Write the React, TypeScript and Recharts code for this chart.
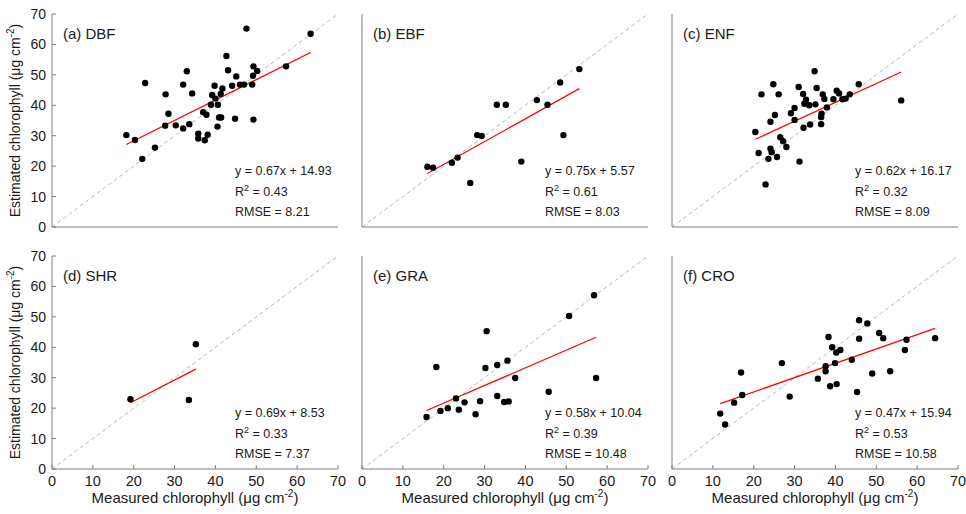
import React from 'react';
import { ScatterChart, Scatter, XAxis, YAxis, ReferenceLine, Customized } from 'recharts';

const dbfMeasured = [18.2, 20.3, 22.8, 22.1, 25.2, 27.8, 28.5, 27.7, 30.3, 32.1, 32.1, 33.0, 33.6, 34.3, 35.8, 35.8, 37.0, 37.8, 37.4, 38.1, 38.9, 39.2, 39.8, 40.0, 40.6, 40.5, 40.9, 41.4, 41.3, 41.7, 42.7, 43.1, 44.1, 44.8, 45.1, 46.0, 47.0, 47.6, 49.0, 49.3, 49.2, 49.3, 50.2, 57.3, 63.3];
const dbfEstimated = [30.2, 28.6, 47.3, 22.4, 26.1, 43.6, 37.2, 33.3, 33.4, 32.4, 46.8, 51.2, 33.8, 43.9, 30.7, 29.1, 37.7, 36.9, 28.5, 30.3, 40.2, 43.4, 46.4, 42.2, 40.2, 33.0, 36.0, 36.0, 43.7, 45.5, 56.2, 51.5, 46.4, 35.6, 49.5, 46.8, 46.8, 65.2, 46.8, 35.3, 49.7, 52.8, 51.3, 52.8, 63.5];

const ebfMeasured = [16.0, 17.4, 22.0, 23.4, 26.5, 28.2, 29.3, 33.0, 35.2, 39.0, 42.8, 45.4, 49.3, 48.5, 53.2];
const ebfEstimated = [19.8, 19.5, 21.1, 22.8, 14.5, 30.2, 29.9, 40.2, 40.2, 21.5, 41.7, 40.2, 30.2, 47.5, 51.9];

const enfMeasured = [20.4, 21.2, 21.9, 22.9, 23.6, 24.1, 24.4, 24.1, 24.8, 25.2, 25.7, 26.1, 26.5, 27.2, 28.0, 29.1, 30.0, 30.0, 31.0, 31.2, 32.1, 32.2, 32.4, 32.8, 33.8, 33.6, 34.9, 35.1, 35.4, 36.5, 36.5, 36.6, 36.9, 37.3, 37.9, 39.5, 40.3, 40.9, 41.7, 42.5, 43.5, 45.7, 56.1];
const enfEstimated = [31.2, 24.3, 43.6, 14.0, 22.4, 25.7, 24.6, 34.6, 46.9, 36.8, 23.0, 43.6, 29.5, 28.2, 26.3, 37.4, 39.1, 35.2, 46.0, 21.5, 43.7, 32.6, 40.5, 41.8, 33.7, 40.0, 51.2, 40.3, 45.7, 33.8, 36.1, 37.2, 43.6, 42.1, 39.3, 42.0, 44.8, 43.9, 42.0, 42.2, 43.6, 46.9, 41.6];

const shrMeasured = [19.2, 33.5, 35.2];
const shrEstimated = [22.9, 22.7, 41.0];

const graMeasured = [15.8, 18.2, 19.2, 21.0, 23.0, 23.7, 25.1, 27.8, 28.9, 30.2, 30.5, 33.1, 33.1, 34.8, 35.9, 35.6, 37.5, 45.7, 50.7, 56.8, 57.3];
const graEstimated = [17.1, 33.5, 19.1, 20.0, 23.2, 19.5, 21.9, 18.0, 22.3, 33.2, 45.3, 34.2, 24.0, 22.0, 22.2, 35.6, 29.9, 25.4, 50.3, 57.1, 29.9];

const croMeasured = [11.8, 13.0, 15.2, 16.9, 17.2, 26.9, 28.8, 35.7, 37.6, 37.6, 38.3, 38.7, 39.2, 39.9, 40.2, 40.3, 41.2, 44.0, 45.3, 45.8, 45.8, 47.8, 49.0, 50.7, 51.7, 53.4, 57.0, 57.4, 64.4];
const croEstimated = [18.2, 14.6, 21.8, 31.7, 24.3, 34.8, 23.8, 29.7, 33.8, 32.1, 43.4, 27.2, 40.0, 34.8, 38.3, 27.9, 39.1, 35.9, 25.3, 48.9, 42.8, 47.8, 31.4, 44.7, 43.0, 32.1, 39.1, 42.5, 43.0];

const panelTags = ['(a) DBF', '(b) EBF', '(c) ENF', '(d) SHR', '(e) GRA', '(f) CRO'];
const slopes = [0.67, 0.75, 0.62, 0.69, 0.58, 0.47];
const intercepts = [14.93, 5.57, 16.17, 8.53, 10.04, 15.94];
const r2Values = ['0.43', '0.61', '0.32', '0.33', '0.39', '0.53'];
const rmseValues = ['8.21', '8.03', '8.09', '7.37', '10.48', '10.58'];
const axisTicks = [0, 10, 20, 30, 40, 50, 60, 70];

const measuredSets = [dbfMeasured, ebfMeasured, enfMeasured, shrMeasured, graMeasured, croMeasured];
const estimatedSets = [dbfEstimated, ebfEstimated, enfEstimated, shrEstimated, graEstimated, croEstimated];

const FONT = '"Liberation Sans", Arial, Helvetica, sans-serif';
const NARROW = '"Liberation Sans Narrow", "Arial Narrow", "Liberation Sans", Arial, sans-serif';
const TEXT = '#1a1a1a';
const FRAME = '#7f7f7f';

const PLOT_W = 286;
const PLOT_H = 213;
const AXIS_W = 52;
const TOP = 14;
const CHART_W = AXIS_W + PLOT_W + 10;
const CHART_H = TOP + PLOT_H + 50;
const Y_TITLE_X = 20;

const Dot = (p: any) => <circle cx={p.cx} cy={p.cy} r={3.2} fill="#000" />;

function Panel({ idx }: { idx: number }) {
  const col = idx % 3;
  const row = Math.floor(idx / 3);
  const measured = measuredSets[idx];
  const estimated = estimatedSets[idx];
  const data = measured.map((x, i) => ({ x, y: estimated[i] }));
  const slope = slopes[idx];
  const intercept = intercepts[idx];
  const xMin = Math.min(...measured);
  const xMax = Math.max(...measured);
  const showX = row === 1;
  const showY = col === 0;

  const yTickStyle = { fontSize: 14, fill: TEXT, fontFamily: FONT };
  const xTickStyle = { fontSize: 14.5, fill: TEXT, fontFamily: NARROW };

  const Texts = () => (
    <g fontFamily={FONT} fill={TEXT}>
      <text x={AXIS_W + 11} y={TOP + 24.5} fontSize={15}>{panelTags[idx]}</text>
      <text x={AXIS_W + 183} y={TOP + 160.5} fontSize={12.5}>
        {`y = ${slope.toFixed(2)}x + ${intercept.toFixed(2)}`}
      </text>
      <text x={AXIS_W + 183} y={TOP + 182} fontSize={12.5}>
        R<tspan dy={-5} fontSize={9}>2</tspan>
        <tspan dy={5}>{` = ${r2Values[idx]}`}</tspan>
      </text>
      <text x={AXIS_W + 183} y={TOP + 201.5} fontSize={12.5}>{`RMSE = ${rmseValues[idx]}`}</text>
      {showY && (
        <text
          x={Y_TITLE_X}
          y={TOP + PLOT_H / 2}
          fontSize={14}
          textAnchor="middle"
          transform={`rotate(-90 ${Y_TITLE_X} ${TOP + PLOT_H / 2})`}
        >
          Estimated chlorophyll (μg cm<tspan dy={-6} fontSize={10}>-2</tspan>
          <tspan dy={6}>)</tspan>
        </text>
      )}
      {showX && (
        <text
          x={AXIS_W + PLOT_W / 2}
          y={TOP + PLOT_H + 34}
          fontSize={15}
          textAnchor="middle"
          fontFamily={NARROW}
        >
          Measured chlorophyll (μg cm<tspan dy={-6} fontSize={10}>-2</tspan>
          <tspan dy={6}>)</tspan>
        </text>
      )}
    </g>
  );

  return (
    <div style={{ position: 'absolute', left: col * 310, top: row === 0 ? 0 : 242 }}>
      <ScatterChart width={CHART_W} height={CHART_H} margin={{ top: TOP, right: 10, bottom: 0, left: 0 }}>
        <XAxis
          type="number"
          dataKey="x"
          domain={[0, 70]}
          ticks={axisTicks}
          height={50}
          axisLine={{ stroke: FRAME }}
          tickLine={{ stroke: FRAME }}
          tickSize={-4}
          tickMargin={11}
          tick={showX ? xTickStyle : false}
          interval={0}
        />
        <XAxis
          xAxisId="top"
          orientation="top"
          type="number"
          domain={[0, 70]}
          ticks={axisTicks}
          height={0}
          axisLine={{ stroke: FRAME }}
          tickLine={{ stroke: FRAME }}
          tickSize={-4}
          tick={false}
        />
        <YAxis
          type="number"
          dataKey="y"
          domain={[0, 70]}
          ticks={axisTicks}
          width={AXIS_W}
          axisLine={{ stroke: FRAME }}
          tickLine={{ stroke: FRAME }}
          tickSize={-4}
          tickMargin={10}
          tick={showY ? yTickStyle : false}
          interval={0}
        />
        <YAxis
          yAxisId="right"
          orientation="right"
          type="number"
          domain={[0, 70]}
          ticks={axisTicks}
          width={0}
          axisLine={{ stroke: FRAME }}
          tickLine={{ stroke: FRAME }}
          tickSize={-4}
          tick={false}
        />
        <ReferenceLine
          segment={[{ x: 0, y: 0 }, { x: 70, y: 70 }]}
          stroke="#b8b8b8"
          strokeDasharray="4 3"
          strokeWidth={1}
        />
        <ReferenceLine
          segment={[
            { x: xMin, y: slope * xMin + intercept },
            { x: xMax, y: slope * xMax + intercept },
          ]}
          stroke="#ff0000"
          strokeWidth={1.2}
        />
        <Scatter data={data} shape={Dot} isAnimationActive={false} />
        <Customized component={Texts} />
      </ScatterChart>
    </div>
  );
}

export default function App() {
  return (
    <div style={{ position: 'absolute', left: 0, top: 0, width: 966, height: 514, background: '#fff', fontFamily: FONT }}>
      {panelTags.map((_, i) => (
        <Panel key={i} idx={i} />
      ))}
    </div>
  );
}
